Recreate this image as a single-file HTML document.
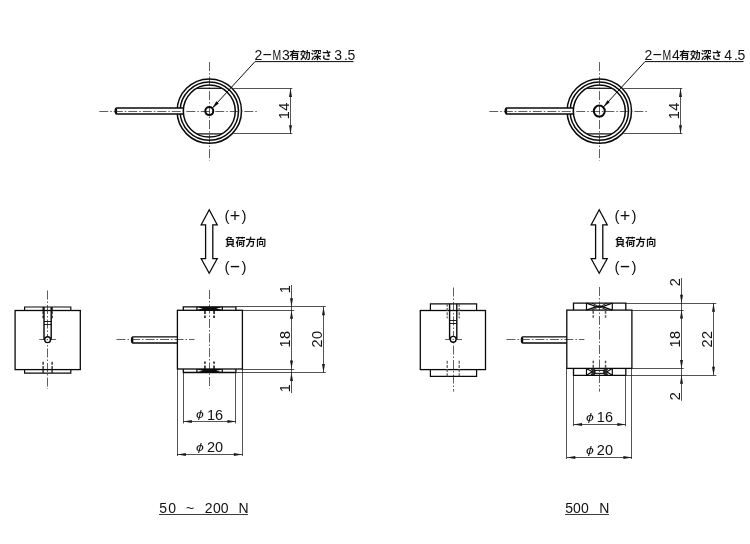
<!DOCTYPE html>
<html lang="ja"><head><meta charset="utf-8"><title>drawing</title>
<style>
html,body{margin:0;padding:0;background:#fff;}
body{width:750px;height:544px;overflow:hidden;}
svg{display:block;filter:grayscale(1);}
.t{font-family:"Liberation Sans","Noto Sans CJK JP",sans-serif;fill:#111;}
.j{font-family:"Liberation Sans","Noto Sans CJK JP",sans-serif;fill:#111;font-weight:700;}
.jb{font-family:"Liberation Sans","Noto Sans CJK JP",sans-serif;fill:#111;font-weight:700;}
</style></head><body>
<svg width="750" height="544" viewBox="0 0 750 544">
<rect width="750" height="544" fill="#fff"/>
<circle cx="209.3" cy="111.1" r="32.2" fill="none" stroke="#0a0a0a" stroke-width="1.5"/>
<circle cx="209.3" cy="111.1" r="29.2" fill="none" stroke="#0a0a0a" stroke-width="1.5"/>
<path d="M183.8,108.1 H116.80000000000001 Q115.30000000000001,108.1 115.30000000000001,111.1 Q115.30000000000001,114.1 116.80000000000001,114.1 H183.8" fill="#fff" stroke="#0a0a0a" stroke-width="1.5"/>
<line x1="116.30" y1="108.60" x2="116.30" y2="113.60" stroke="#0a0a0a" stroke-width="1.6"/>
<circle cx="209.3" cy="111.1" r="26" fill="none" stroke="#0a0a0a" stroke-width="1.5"/>
<line x1="99.30" y1="111.50" x2="258.30" y2="111.50" stroke="#1a1a1a" stroke-width="0.7" stroke-dasharray="9 2 1.5 2"/>
<line x1="209.50" y1="62.10" x2="209.50" y2="160.60" stroke="#1a1a1a" stroke-width="0.7" stroke-dasharray="9 2 1.5 2"/>
<line x1="196.80" y1="88.30" x2="221.80" y2="88.30" stroke="#0a0a0a" stroke-width="1.2"/>
<line x1="196.80" y1="133.90" x2="221.80" y2="133.90" stroke="#0a0a0a" stroke-width="1.2"/>
<circle cx="209.3" cy="111.1" r="4.0" fill="none" stroke="#0a0a0a" stroke-width="2"/>
<line x1="233.30" y1="88.50" x2="292.30" y2="88.50" stroke="#1a1a1a" stroke-width="0.75"/>
<line x1="233.30" y1="133.50" x2="292.30" y2="133.50" stroke="#1a1a1a" stroke-width="0.75"/>
<line x1="290.50" y1="88.40" x2="290.50" y2="133.80" stroke="#1a1a1a" stroke-width="0.75"/>
<polygon points="290.50,88.40 289.00,96.90 292.00,96.90" fill="#1c1c1c"/>
<polygon points="290.50,133.80 289.00,125.30 292.00,125.30" fill="#1c1c1c"/>
<text class="t" font-size="14.5" text-anchor="middle" letter-spacing="0.4" transform="translate(289.1 110.7) rotate(-90)">14</text>
<polyline points="353.5,61.6 255,61.6 212.3,108.1" fill="none" stroke="#0a0a0a" stroke-width="1"/>
<polygon points="212.18,108.22 218.77,103.41 216.41,101.25" fill="#0a0a0a"/>
<text class="t" font-size="14" y="59.5"><tspan x="254.5">2</tspan><tspan x="262.0" dy="-0.9" textLength="10.5" lengthAdjust="spacingAndGlyphs">-</tspan><tspan x="272.6" dy="0.9" textLength="8.7" lengthAdjust="spacingAndGlyphs">M</tspan><tspan x="282.0">3</tspan><tspan x="289.3" dy="-0.2" font-size="10.7" font-weight="700">有効深さ</tspan><tspan x="334.2 344.0 347.4" dy="0.2">3.5</tspan></text>
<circle cx="599.3" cy="111.1" r="32.2" fill="none" stroke="#0a0a0a" stroke-width="1.5"/>
<circle cx="599.3" cy="111.1" r="29.2" fill="none" stroke="#0a0a0a" stroke-width="1.5"/>
<path d="M573.8,108.1 H506.79999999999995 Q505.29999999999995,108.1 505.29999999999995,111.1 Q505.29999999999995,114.1 506.79999999999995,114.1 H573.8" fill="#fff" stroke="#0a0a0a" stroke-width="1.5"/>
<line x1="506.30" y1="108.60" x2="506.30" y2="113.60" stroke="#0a0a0a" stroke-width="1.6"/>
<circle cx="599.3" cy="111.1" r="26" fill="none" stroke="#0a0a0a" stroke-width="1.5"/>
<line x1="489.30" y1="111.50" x2="648.30" y2="111.50" stroke="#1a1a1a" stroke-width="0.7" stroke-dasharray="9 2 1.5 2"/>
<line x1="599.50" y1="62.10" x2="599.50" y2="160.60" stroke="#1a1a1a" stroke-width="0.7" stroke-dasharray="9 2 1.5 2"/>
<line x1="586.80" y1="88.30" x2="611.80" y2="88.30" stroke="#0a0a0a" stroke-width="1.2"/>
<line x1="586.80" y1="133.90" x2="611.80" y2="133.90" stroke="#0a0a0a" stroke-width="1.2"/>
<circle cx="599.3" cy="111.1" r="5.5" fill="none" stroke="#0a0a0a" stroke-width="2"/>
<line x1="623.30" y1="88.50" x2="682.30" y2="88.50" stroke="#1a1a1a" stroke-width="0.75"/>
<line x1="623.30" y1="133.50" x2="682.30" y2="133.50" stroke="#1a1a1a" stroke-width="0.75"/>
<line x1="680.50" y1="88.40" x2="680.50" y2="133.80" stroke="#1a1a1a" stroke-width="0.75"/>
<polygon points="680.50,88.40 679.00,96.90 682.00,96.90" fill="#1c1c1c"/>
<polygon points="680.50,133.80 679.00,125.30 682.00,125.30" fill="#1c1c1c"/>
<text class="t" font-size="14.5" text-anchor="middle" letter-spacing="0.4" transform="translate(679.1 110.7) rotate(-90)">14</text>
<polyline points="743.5,61.6 645,61.6 603.4,107.0" fill="none" stroke="#0a0a0a" stroke-width="1"/>
<polygon points="603.26,107.14 609.84,102.32 607.49,100.16" fill="#0a0a0a"/>
<text class="t" font-size="14" y="59.5"><tspan x="644.5">2</tspan><tspan x="652.0" dy="-0.9" textLength="10.5" lengthAdjust="spacingAndGlyphs">-</tspan><tspan x="662.6" dy="0.9" textLength="8.7" lengthAdjust="spacingAndGlyphs">M</tspan><tspan x="672.0">4</tspan><tspan x="679.3" dy="-0.2" font-size="10.7" font-weight="700">有効深さ</tspan><tspan x="724.2 734.0 737.4" dy="0.2">4.5</tspan></text>
<polygon points="209.2,209.8 217.2,224.8 212.8,224.8 212.8,258.7 217.2,258.7 209.2,273.2 201.2,258.7 205.6,258.7 205.6,224.8 201.2,224.8" fill="#fff" stroke="#0a0a0a" stroke-width="1.3"/>
<text class="t" font-size="15" y="220.6"><tspan x="224.5">(</tspan><tspan x="229.7" dy="1.4" font-size="18">+</tspan><tspan x="241.5" dy="-1.4">)</tspan></text>
<text class="t" font-size="15" y="271.6"><tspan x="224.5">(</tspan><tspan x="229.2" dy="0.3" font-size="18" textLength="11.5" lengthAdjust="spacingAndGlyphs">-</tspan><tspan x="241.5" dy="-0.3">)</tspan></text>
<text class="jb" x="225" y="245.7" font-size="10.3" text-anchor="start">負荷方向</text>
<polygon points="599.2,209.8 607.2,224.8 602.8,224.8 602.8,258.7 607.2,258.7 599.2,273.2 591.2,258.7 595.6,258.7 595.6,224.8 591.2,224.8" fill="#fff" stroke="#0a0a0a" stroke-width="1.3"/>
<text class="t" font-size="15" y="220.6"><tspan x="614.5">(</tspan><tspan x="619.7" dy="1.4" font-size="18">+</tspan><tspan x="631.5" dy="-1.4">)</tspan></text>
<text class="t" font-size="15" y="271.6"><tspan x="614.5">(</tspan><tspan x="619.2" dy="0.3" font-size="18" textLength="11.5" lengthAdjust="spacingAndGlyphs">-</tspan><tspan x="631.5" dy="-0.3">)</tspan></text>
<text class="jb" x="615" y="245.7" font-size="10.3" text-anchor="start">負荷方向</text>
<rect x="15.1" y="310.5" width="65.2" height="59.1" fill="none" stroke="#0a0a0a" stroke-width="1.3"/>
<path d="M24.6,310.5 V307.0 H70.8 V310.5" fill="none" stroke="#0a0a0a" stroke-width="1.2"/>
<path d="M24.6,369.6 V373.1 H70.8 V369.6" fill="none" stroke="#0a0a0a" stroke-width="1.2"/>
<line x1="47.50" y1="290.50" x2="47.50" y2="389.00" stroke="#1a1a1a" stroke-width="0.7" stroke-dasharray="9 2 1.5 2"/>
<path d="M44.0,307.0 V339.7 M51.2,307.0 V339.7" stroke="#0a0a0a" stroke-width="1.4" fill="none"/>
<line x1="44.00" y1="321.50" x2="51.20" y2="321.50" stroke="#0a0a0a" stroke-width="0.9"/>
<line x1="44.00" y1="324.50" x2="51.20" y2="324.50" stroke="#0a0a0a" stroke-width="0.9"/>
<line x1="39.30" y1="339.50" x2="56.10" y2="339.50" stroke="#1a1a1a" stroke-width="0.7"/>
<circle cx="47.6" cy="339.7" r="2.9" fill="#fff" stroke="#0a0a0a" stroke-width="1.4"/>
<circle cx="47.3" cy="339.7" r="0.6" fill="#1a1a1a"/>
<line x1="43.10" y1="307.00" x2="43.10" y2="318.30" stroke="#0a0a0a" stroke-width="1.2" stroke-dasharray="3 1.2"/>
<line x1="43.10" y1="373.10" x2="43.10" y2="360.80" stroke="#0a0a0a" stroke-width="1.2" stroke-dasharray="3 1.2"/>
<line x1="52.10" y1="307.00" x2="52.10" y2="318.30" stroke="#0a0a0a" stroke-width="1.2" stroke-dasharray="3 1.2"/>
<line x1="52.10" y1="373.10" x2="52.10" y2="360.80" stroke="#0a0a0a" stroke-width="1.2" stroke-dasharray="3 1.2"/>
<rect x="420.3" y="310.5" width="65.2" height="59.1" fill="none" stroke="#0a0a0a" stroke-width="1.3"/>
<path d="M430.4,310.5 V303.8 H476.6 V310.5" fill="none" stroke="#0a0a0a" stroke-width="1.2"/>
<path d="M430.4,369.6 V376.3 H476.6 V369.6" fill="none" stroke="#0a0a0a" stroke-width="1.2"/>
<line x1="453.50" y1="287.50" x2="453.50" y2="391.60" stroke="#1a1a1a" stroke-width="0.7" stroke-dasharray="9 2 1.5 2"/>
<path d="M449.6,303.8 V339.3 M456.8,303.8 V339.3" stroke="#0a0a0a" stroke-width="1.4" fill="none"/>
<line x1="449.60" y1="320.50" x2="456.80" y2="320.50" stroke="#0a0a0a" stroke-width="0.9"/>
<line x1="449.60" y1="323.50" x2="456.80" y2="323.50" stroke="#0a0a0a" stroke-width="0.9"/>
<line x1="445.20" y1="339.50" x2="462.00" y2="339.50" stroke="#1a1a1a" stroke-width="0.7"/>
<circle cx="453.2" cy="339.3" r="2.9" fill="#fff" stroke="#0a0a0a" stroke-width="1.4"/>
<circle cx="453.2" cy="339.3" r="0.6" fill="#1a1a1a"/>
<line x1="447.20" y1="303.80" x2="447.20" y2="318.30" stroke="#555" stroke-width="1.2" stroke-dasharray="3 1.2"/>
<line x1="447.20" y1="376.30" x2="447.20" y2="360.80" stroke="#555" stroke-width="1.2" stroke-dasharray="3 1.2"/>
<line x1="459.20" y1="303.80" x2="459.20" y2="318.30" stroke="#555" stroke-width="1.2" stroke-dasharray="3 1.2"/>
<line x1="459.20" y1="376.30" x2="459.20" y2="360.80" stroke="#555" stroke-width="1.2" stroke-dasharray="3 1.2"/>
<path d="M177.4,336.79999999999995 H133.0 Q131.5,336.79999999999995 131.5,339.9 Q131.5,343.0 133.0,343.0 H177.4" fill="#fff" stroke="#0a0a0a" stroke-width="1.3"/>
<line x1="132.50" y1="337.40" x2="132.50" y2="342.40" stroke="#0a0a0a" stroke-width="1.6"/>
<line x1="116.50" y1="339.50" x2="194.50" y2="339.50" stroke="#1a1a1a" stroke-width="0.7" stroke-dasharray="9 2 1.5 2"/>
<rect x="177.4" y="310.3" width="65.0" height="58.7" fill="none" stroke="#0a0a0a" stroke-width="1.3"/>
<path d="M183.3,310.3 V306.8 H235.9 V310.3" fill="none" stroke="#0a0a0a" stroke-width="1.3"/>
<path d="M183.3,369.0 V372.5 H235.9 V369.0" fill="none" stroke="#0a0a0a" stroke-width="1.3"/>
<line x1="196.90" y1="306.80" x2="196.90" y2="310.30" stroke="#0a0a0a" stroke-width="1.2"/>
<line x1="196.90" y1="369.00" x2="196.90" y2="372.50" stroke="#0a0a0a" stroke-width="1.2"/>
<line x1="222.30" y1="306.80" x2="222.30" y2="310.30" stroke="#0a0a0a" stroke-width="1.2"/>
<line x1="222.30" y1="369.00" x2="222.30" y2="372.50" stroke="#0a0a0a" stroke-width="1.2"/>
<line x1="204.95" y1="310.30" x2="204.95" y2="318.40" stroke="#0a0a0a" stroke-width="1.5" stroke-dasharray="3.6 1.6 2.4 2"/>
<line x1="204.95" y1="369.00" x2="204.95" y2="360.60" stroke="#0a0a0a" stroke-width="1.5" stroke-dasharray="3.6 1.6 2.4 2"/>
<line x1="214.05" y1="310.30" x2="214.05" y2="318.40" stroke="#0a0a0a" stroke-width="1.5" stroke-dasharray="3.6 1.6 2.4 2"/>
<line x1="214.05" y1="369.00" x2="214.05" y2="360.60" stroke="#0a0a0a" stroke-width="1.5" stroke-dasharray="3.6 1.6 2.4 2"/>
<polygon points="196.9,306.8 222.3,306.8 222.3,310.3 196.9,310.3" fill="#0a0a0a"/>
<polygon points="197.5,307.55 203.0,308.55 197.5,309.55" fill="#fff"/>
<polygon points="221.7,307.55 216.0,308.55 221.7,309.55" fill="#fff"/>
<polygon points="196.9,369.0 222.3,369.0 222.3,372.5 196.9,372.5" fill="#0a0a0a"/>
<polygon points="197.5,369.75 203.0,370.75 197.5,371.75" fill="#fff"/>
<polygon points="221.7,369.75 216.0,370.75 221.7,371.75" fill="#fff"/>
<line x1="209.50" y1="290.00" x2="209.50" y2="388.50" stroke="#1a1a1a" stroke-width="0.7" stroke-dasharray="9 2 1.5 2"/>
<line x1="235.90" y1="306.50" x2="325.80" y2="306.50" stroke="#1a1a1a" stroke-width="0.75"/>
<line x1="235.90" y1="372.50" x2="325.80" y2="372.50" stroke="#1a1a1a" stroke-width="0.75"/>
<line x1="242.40" y1="310.50" x2="294.20" y2="310.50" stroke="#1a1a1a" stroke-width="0.75"/>
<line x1="242.40" y1="369.50" x2="294.20" y2="369.50" stroke="#1a1a1a" stroke-width="0.75"/>
<line x1="291.50" y1="285.00" x2="291.50" y2="393.00" stroke="#1a1a1a" stroke-width="0.75"/>
<line x1="323.50" y1="306.80" x2="323.50" y2="372.50" stroke="#1a1a1a" stroke-width="0.75"/>
<polygon points="291.50,306.80 290.00,298.30 293.00,298.30" fill="#1c1c1c"/>
<polygon points="291.50,310.30 290.00,318.80 293.00,318.80" fill="#1c1c1c"/>
<polygon points="291.50,369.00 290.00,360.50 293.00,360.50" fill="#1c1c1c"/>
<polygon points="291.50,372.50 290.00,381.00 293.00,381.00" fill="#1c1c1c"/>
<polygon points="323.50,306.80 322.00,315.30 325.00,315.30" fill="#1c1c1c"/>
<polygon points="323.50,372.50 322.00,364.00 325.00,364.00" fill="#1c1c1c"/>
<text class="t" font-size="14.5" text-anchor="middle" letter-spacing="0.4" transform="translate(290.2 289.1) rotate(-90)">1</text>
<text class="t" font-size="14.5" text-anchor="middle" letter-spacing="0.4" transform="translate(290.2 339.0) rotate(-90)">18</text>
<text class="t" font-size="14.5" text-anchor="middle" letter-spacing="0.4" transform="translate(321.8 339.0) rotate(-90)">20</text>
<text class="t" font-size="14.5" text-anchor="middle" letter-spacing="0.4" transform="translate(290.2 388.1) rotate(-90)">1</text>
<line x1="183.50" y1="372.50" x2="183.50" y2="423.40" stroke="#1a1a1a" stroke-width="0.75"/>
<line x1="235.50" y1="372.50" x2="235.50" y2="423.40" stroke="#1a1a1a" stroke-width="0.75"/>
<line x1="177.50" y1="369.00" x2="177.50" y2="456.00" stroke="#1a1a1a" stroke-width="0.75"/>
<line x1="242.50" y1="369.00" x2="242.50" y2="456.00" stroke="#1a1a1a" stroke-width="0.75"/>
<line x1="183.30" y1="421.50" x2="235.90" y2="421.50" stroke="#1a1a1a" stroke-width="0.75"/>
<line x1="177.40" y1="454.50" x2="242.40" y2="454.50" stroke="#1a1a1a" stroke-width="0.75"/>
<polygon points="183.30,421.50 191.80,420.00 191.80,423.00" fill="#1c1c1c"/>
<polygon points="235.90,421.50 227.40,420.00 227.40,423.00" fill="#1c1c1c"/>
<polygon points="177.40,454.50 185.90,453.00 185.90,456.00" fill="#1c1c1c"/>
<polygon points="242.40,454.50 233.90,453.00 233.90,456.00" fill="#1c1c1c"/>
<text class="t" font-size="14.5" y="419.6"><tspan x="196.1" dy="-1.3" font-size="10.7" font-style="italic" textLength="7.8" lengthAdjust="spacingAndGlyphs">ϕ</tspan><tspan x="206.9 215.1" dy="1.3">16</tspan></text>
<text class="t" font-size="14.5" y="452.2"><tspan x="196.1" dy="-1.3" font-size="10.7" font-style="italic" textLength="7.8" lengthAdjust="spacingAndGlyphs">ϕ</tspan><tspan x="206.9 215.1" dy="1.3">20</tspan></text>
<path d="M566.8,336.79999999999995 H522.9 Q521.4,336.79999999999995 521.4,339.9 Q521.4,343.0 522.9,343.0 H566.8" fill="#fff" stroke="#0a0a0a" stroke-width="1.3"/>
<line x1="522.40" y1="337.40" x2="522.40" y2="342.40" stroke="#0a0a0a" stroke-width="1.6"/>
<line x1="506.40" y1="339.50" x2="584.40" y2="339.50" stroke="#1a1a1a" stroke-width="0.7" stroke-dasharray="9 2 1.5 2"/>
<rect x="566.8" y="310.1" width="65.1" height="58.3" fill="none" stroke="#0a0a0a" stroke-width="1.3"/>
<path d="M573.5,310.1 V303.2 H625.8 V310.1" fill="none" stroke="#0a0a0a" stroke-width="1.3"/>
<path d="M573.5,368.4 V375.3 H625.8 V368.4" fill="none" stroke="#0a0a0a" stroke-width="1.3"/>
<line x1="586.50" y1="303.20" x2="586.50" y2="310.10" stroke="#0a0a0a" stroke-width="1.2"/>
<line x1="586.50" y1="368.40" x2="586.50" y2="375.30" stroke="#0a0a0a" stroke-width="1.2"/>
<line x1="612.30" y1="303.20" x2="612.30" y2="310.10" stroke="#0a0a0a" stroke-width="1.2"/>
<line x1="612.30" y1="368.40" x2="612.30" y2="375.30" stroke="#0a0a0a" stroke-width="1.2"/>
<line x1="593.25" y1="310.10" x2="593.25" y2="318.40" stroke="#555" stroke-width="1.5" stroke-dasharray="3.6 1.6 2.4 2"/>
<line x1="593.25" y1="368.40" x2="593.25" y2="360.60" stroke="#555" stroke-width="1.5" stroke-dasharray="3.6 1.6 2.4 2"/>
<line x1="605.55" y1="310.10" x2="605.55" y2="318.40" stroke="#555" stroke-width="1.5" stroke-dasharray="3.6 1.6 2.4 2"/>
<line x1="605.55" y1="368.40" x2="605.55" y2="360.60" stroke="#555" stroke-width="1.5" stroke-dasharray="3.6 1.6 2.4 2"/>
<path d="M586.5,303.2 L596.4,306.65 L586.5,310.1 M612.3,303.2 L602.4,306.65 L612.3,310.1 M596.4,306.65 H602.4" stroke="#0a0a0a" stroke-width="1.3" fill="none"/>
<path d="M591.9,310.1 L597.4,307.45 H601.4 L606.9,310.1 M591.9,303.2 L597.4,305.85 H601.4 L606.9,303.2" stroke="#0a0a0a" stroke-width="0.9" fill="none"/>
<polyline points="586.5,368.4 592.1,371.85 586.5,375.3" fill="none" stroke="#0a0a0a" stroke-width="1.2"/>
<polygon points="590.5,368.4 595.0,368.4 595.0,375.3 590.5,375.3 592.1,371.85" fill="#0a0a0a" opacity="0.85"/>
<polyline points="612.3,368.4 606.7,371.85 612.3,375.3" fill="none" stroke="#0a0a0a" stroke-width="1.2"/>
<polygon points="608.3,368.4 603.8,368.4 603.8,375.3 608.3,375.3 606.7,371.85" fill="#0a0a0a" opacity="0.85"/>
<rect x="595.0" y="370.35" width="8.8" height="3" fill="#fff" stroke="#0a0a0a" stroke-width="1.1"/>
<line x1="599.50" y1="287.00" x2="599.50" y2="391.70" stroke="#1a1a1a" stroke-width="0.7" stroke-dasharray="9 2 1.5 2"/>
<line x1="625.80" y1="303.50" x2="716.30" y2="303.50" stroke="#1a1a1a" stroke-width="0.75"/>
<line x1="625.80" y1="375.50" x2="716.30" y2="375.50" stroke="#1a1a1a" stroke-width="0.75"/>
<line x1="631.90" y1="310.50" x2="683.70" y2="310.50" stroke="#1a1a1a" stroke-width="0.75"/>
<line x1="631.90" y1="368.50" x2="683.70" y2="368.50" stroke="#1a1a1a" stroke-width="0.75"/>
<line x1="681.50" y1="278.00" x2="681.50" y2="400.80" stroke="#1a1a1a" stroke-width="0.75"/>
<line x1="713.50" y1="303.20" x2="713.50" y2="375.30" stroke="#1a1a1a" stroke-width="0.75"/>
<polygon points="681.50,303.20 680.00,294.70 683.00,294.70" fill="#1c1c1c"/>
<polygon points="681.50,310.10 680.00,318.60 683.00,318.60" fill="#1c1c1c"/>
<polygon points="681.50,368.40 680.00,359.90 683.00,359.90" fill="#1c1c1c"/>
<polygon points="681.50,375.30 680.00,383.80 683.00,383.80" fill="#1c1c1c"/>
<polygon points="713.50,303.20 712.00,311.70 715.00,311.70" fill="#1c1c1c"/>
<polygon points="713.50,375.30 712.00,366.80 715.00,366.80" fill="#1c1c1c"/>
<text class="t" font-size="14.5" text-anchor="middle" letter-spacing="0.4" transform="translate(679.7 282.1) rotate(-90)">2</text>
<text class="t" font-size="14.5" text-anchor="middle" letter-spacing="0.4" transform="translate(679.7 339.0) rotate(-90)">18</text>
<text class="t" font-size="14.5" text-anchor="middle" letter-spacing="0.4" transform="translate(712.3 339.0) rotate(-90)">22</text>
<text class="t" font-size="14.5" text-anchor="middle" letter-spacing="0.4" transform="translate(679.7 395.9) rotate(-90)">2</text>
<line x1="573.50" y1="375.30" x2="573.50" y2="426.20" stroke="#1a1a1a" stroke-width="0.75"/>
<line x1="625.50" y1="375.30" x2="625.50" y2="426.20" stroke="#1a1a1a" stroke-width="0.75"/>
<line x1="566.50" y1="368.40" x2="566.50" y2="459.00" stroke="#1a1a1a" stroke-width="0.75"/>
<line x1="631.50" y1="368.40" x2="631.50" y2="459.00" stroke="#1a1a1a" stroke-width="0.75"/>
<line x1="573.50" y1="424.50" x2="625.80" y2="424.50" stroke="#1a1a1a" stroke-width="0.75"/>
<line x1="566.80" y1="457.50" x2="631.90" y2="457.50" stroke="#1a1a1a" stroke-width="0.75"/>
<polygon points="573.50,424.50 582.00,423.00 582.00,426.00" fill="#1c1c1c"/>
<polygon points="625.80,424.50 617.30,423.00 617.30,426.00" fill="#1c1c1c"/>
<polygon points="566.80,457.50 575.30,456.00 575.30,459.00" fill="#1c1c1c"/>
<polygon points="631.90,457.50 623.40,456.00 623.40,459.00" fill="#1c1c1c"/>
<text class="t" font-size="14.5" y="422.4"><tspan x="586.0" dy="-1.3" font-size="10.7" font-style="italic" textLength="7.8" lengthAdjust="spacingAndGlyphs">ϕ</tspan><tspan x="596.8 605.0" dy="1.3">16</tspan></text>
<text class="t" font-size="14.5" y="455.2"><tspan x="586.0" dy="-1.3" font-size="10.7" font-style="italic" textLength="7.8" lengthAdjust="spacingAndGlyphs">ϕ</tspan><tspan x="596.8 605.0" dy="1.3">20</tspan></text>
<text class="t" x="159.3 168.2 176.0 186.0 196.0 204.7 213.0 220.8 230.0 238.6" y="513" font-size="14" text-anchor="start">50 ~ 200 N</text>
<line x1="159.00" y1="514.50" x2="248.00" y2="514.50" stroke="#0a0a0a" stroke-width="0.8"/>
<text class="t" x="565.3 573.1 580.9 590.0 599.2" y="513" font-size="14" text-anchor="start">500 N</text>
<line x1="565.00" y1="514.50" x2="609.00" y2="514.50" stroke="#0a0a0a" stroke-width="0.8"/>
</svg></body></html>
